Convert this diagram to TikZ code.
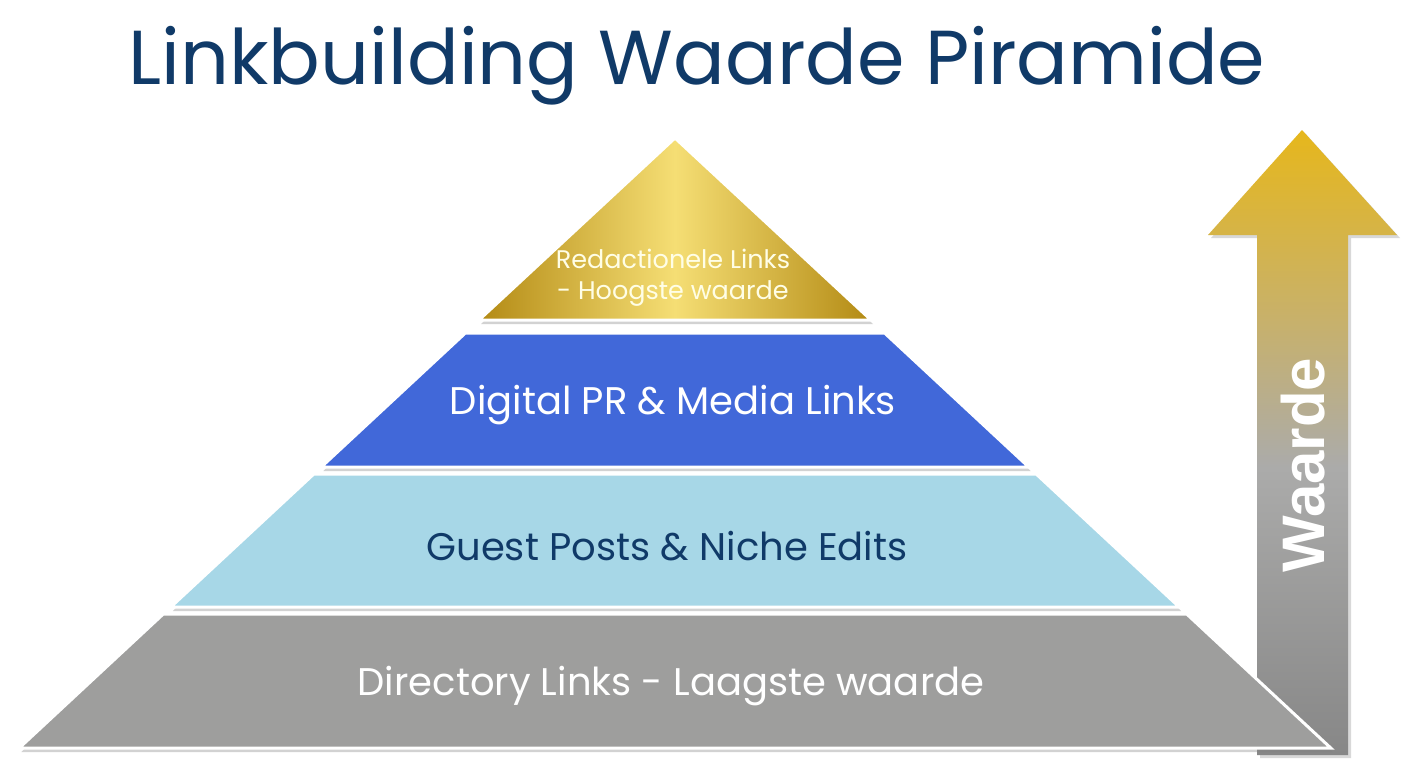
\documentclass[tikz,border=0pt]{standalone}
\usepackage{fontspec}
\setmainfont{Poppins}
\newfontfamily\boldsans{Liberation Sans}
\usetikzlibrary{shadows}
\definecolor{navy}{HTML}{103A68}
\definecolor{golddark}{HTML}{B38A14}
\definecolor{goldlight}{HTML}{F5DE74}
\definecolor{royal}{HTML}{4168D9}
\definecolor{skyb}{HTML}{A7D7E7}
\definecolor{bandgray}{HTML}{9E9E9D}
\definecolor{arrgold}{HTML}{E6B71C}
\definecolor{arrtan}{HTML}{C8B16A}
\definecolor{arrmid}{HTML}{ABABAA}
\definecolor{arrlow}{HTML}{878787}
\pgfdeclareverticalshading{arrshade}{100bp}{color(0bp)=(arrlow); color(25bp)=(arrlow); color(48bp)=(arrmid); color(60bp)=(arrtan); color(75bp)=(arrgold); color(100bp)=(arrgold)}
\tikzset{
  band/.style={draw=white, line width=3pt, line join=miter,
    drop shadow={opacity=0.35, shadow xshift=2pt, shadow yshift=-4pt}},
  bandtext/.style={font=\fontsize{38.5}{44}\selectfont, text=white, inner sep=0pt},
}
\begin{document}
\begin{tikzpicture}[x=1pt,y=-1pt]
\useasboundingbox[fill=white] (0,0) rectangle (1408,768);
% title
\node[font=\fontsize{76.5}{84}\selectfont, text=navy, inner sep=0pt] (title) at (697,66) {Linkbuilding Waarde Piramide};
% arrow
\path[shading=arrshade,
  drop shadow={opacity=0.3, shadow xshift=3pt, shadow yshift=-3pt}]
  (1302,130) -- (1397,235) -- (1348,235) -- (1348,755) -- (1257,755) -- (1257,235) -- (1208,235) -- cycle;
\node[rotate=90, font=\boldsans\bfseries\fontsize{60}{64}\selectfont, text=white, inner sep=0pt] (waarde) at (1303,465) {Waarde};
% pyramid bands
\path[band, fill=bandgray] (163.3,614) -- (1186.7,614) -- (1330.75,748) -- (19.25,748) -- cycle;
\path[band, fill=skyb] (313.8,474) -- (1036.2,474) -- (1179.2,607) -- (170.8,607) -- cycle;
\path[band, fill=royal] (465.4,333) -- (884.6,333) -- (1028.7,467) -- (321.3,467) -- cycle;
\path[band, left color=golddark, right color=golddark, middle color=goldlight] (675,138) -- (871,320) -- (479,320) -- cycle;
% texts
\node[font=\fontsize{25.5}{31}\selectfont, text=white!90!yellow, align=center, inner sep=0pt] (top) at (673,278) {Redactionele Links\\- Hoogste waarde};
\node[bandtext] (pr) at (673,405) {Digital PR \& Media Links};
\node[bandtext, text=navy] (guest) at (667,546) {Guest Posts \& Niche Edits};
\node[bandtext] (dir) at (671,686) {Directory Links - Laagste waarde};
\end{tikzpicture}
\end{document}
